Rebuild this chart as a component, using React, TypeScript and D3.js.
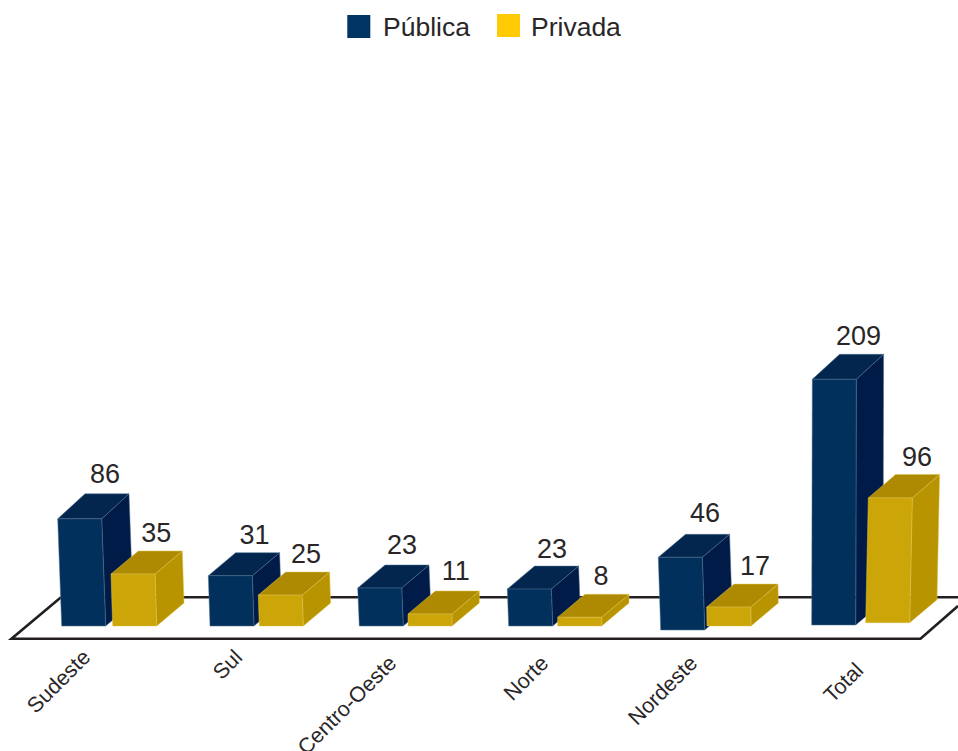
import React from "react";
import * as d3 from "d3";

// ---- data ----
const categories = ["Sudeste", "Sul", "Centro-Oeste", "Norte", "Nordeste", "Total"];
const publicaLabels = [86, 31, 23, 23, 46, 209];
const privadaLabels = [35, 25, 11, 8, 17, 96];
// The drawn bar heights are not proportional to their labels in the picture; these are the heights as drawn, in chart units.
const publicaHeights = [91.2, 42.8, 32.3, 31.4, 61.8, 209];
const privadaHeights = [44.2, 26.3, 10.2, 7.4, 16.1, 106.2];
const seriesNames = ["Pública", "Privada"];

// ---- layout ----
const W = 958, H = 751;
const BAR_W = 44, DEPTH_X = 27.3;
const x = d3.scalePoint<string>().domain(categories).range([61, 811]);
const hScale = d3.scaleLinear().domain([0, 209]).range([0, 245.7]);
const GROUP_OFFSET = [0, 50];
const nudgeX = [[0.7, -1, -1.7, -2.3, -0.3, 0.7], [1.7, -1.7, -3, -3.3, -4, 4.7]];
const baseY = [[626, 626, 626, 626, 630, 625], [626, 626, 626, 626, 626, 622.7]];
const lean = [[-4, -1.7, -1.6, -1.4, -2.4, 0.6], [-1.7, -1, 0, 0, -0.3, 2.6]];
const depthTop = [[25, 23, 23, 23, 23, 25], [23, 23, 23, 23, 23, 23.5]];
const labelDx = [[-2, -3, -5, -4.7, -2.5, -3], [-4, -1.5, -1.5, -6, -1, -0.5]];
const labelDy = [[-2, 0, -2, 0.5, -3, 0], [0, 0, -2, 0, 0, 1]];
const labelGap = [9, 9.5];
const tickEnd = [[81, 648], [233, 648], [387, 654], [539, 654], [688, 654], [854, 661]];

const palette = [
  { front: "#02305c", top: "#03264f", side: "#001b47", edge: "#4f708e", legend: "#003463" },
  { front: "#cca508", top: "#ad8a02", side: "#b79400", edge: "#dcc34f", legend: "#ffcb05" },
];
const textColor = "#2a2627";
const lineColor = "#231f20";
const fontFamily = "'Liberation Sans', Arial, sans-serif";

const pts = (p: number[][]) => p.map((a) => a.map((v) => v.toFixed(1)).join(",")).join(" ");

function Bar({ s, i, h }: { s: number; i: number; h: number }) {
  const c = palette[s];
  const bx = (x(categories[i]) as number) + GROUP_OFFSET[s] + nudgeX[s][i];
  const by = baseY[s][i];
  const tx = bx + lean[s][i];
  const ty = by - hScale(h);
  const d = depthTop[s][i];
  const edge = { stroke: c.edge, strokeWidth: 0.5, strokeLinejoin: "round" as const };
  return (
    <g>
      <polygon
        points={pts([[tx + BAR_W, ty], [tx + BAR_W + DEPTH_X, ty - d], [bx + BAR_W + DEPTH_X, by - 23], [bx + BAR_W, by]])}
        fill={c.side}
        {...edge}
      />
      <polygon
        points={pts([[tx, ty], [tx + DEPTH_X, ty - d], [tx + BAR_W + DEPTH_X, ty - d], [tx + BAR_W, ty]])}
        fill={c.top}
        {...edge}
      />
      <polygon
        points={pts([[tx, ty], [tx + BAR_W, ty], [bx + BAR_W, by], [bx, by]])}
        fill={c.front}
        {...edge}
      />
    </g>
  );
}

export default function App() {
  const heights = [publicaHeights, privadaHeights];
  const labels = [publicaLabels, privadaLabels];
  return (
    <svg
      width={W}
      height={H}
      viewBox={`0 0 ${W} ${H}`}
      style={{ position: "absolute", left: 0, top: 0, display: "block", background: "#fff" }}
      fontFamily={fontFamily}
    >
      {/* floor */}
      <path d="M61,597.3 L958,597.3" stroke={lineColor} strokeWidth={2.6} fill="none" />
      <path d="M61,597.3 L11.5,638.7 L920.5,638.7 L958,606" stroke={lineColor} strokeWidth={2.6} fill="none" strokeLinejoin="miter" />

      {/* bars */}
      {categories.map((cat, i) => (
        <g key={cat}>
          {[0, 1].map((s) => (
            <Bar key={s} s={s} i={i} h={heights[s][i]} />
          ))}
        </g>
      ))}

      {/* value labels */}
      {categories.map((cat, i) =>
        [0, 1].map((s) => {
          const bx = (x(cat) as number) + GROUP_OFFSET[s] + nudgeX[s][i] + lean[s][i];
          const top = baseY[s][i] - hScale(heights[s][i]) - depthTop[s][i];
          return (
            <text
              key={cat + s}
              x={bx + DEPTH_X + BAR_W / 2 + labelDx[s][i]}
              y={top - labelGap[s] + labelDy[s][i]}
              textAnchor="middle"
              fontSize={27}
              fill={textColor}
            >
              {labels[s][i]}
            </text>
          );
        })
      )}

      {/* category labels */}
      {categories.map((cat, i) => (
        <text
          key={cat}
          transform={`translate(${tickEnd[i][0]},${tickEnd[i][1]}) rotate(-45)`}
          textAnchor="end"
          fontSize={21.5}
          dy="0.7em"
          fill={textColor}
        >
          {cat}
        </text>
      ))}

      {/* legend */}
      <rect x={347.3} y={15} width={23} height={23} fill={palette[0].legend} />
      <text x={383} y={36} fontSize={26.5} fill={textColor}>{seriesNames[0]}</text>
      <rect x={497} y={14} width={23} height={23} fill={palette[1].legend} />
      <text x={531} y={36} fontSize={26.5} fill={textColor}>{seriesNames[1]}</text>
    </svg>
  );
}
